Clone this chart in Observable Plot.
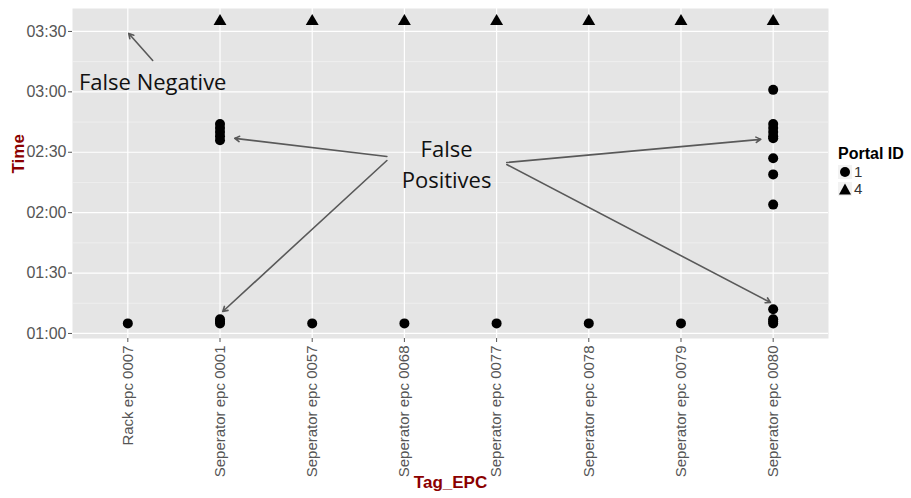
<!DOCTYPE html>
<html>
<head>
<meta charset="utf-8">
<script src="https://cdn.jsdelivr.net/npm/d3@7"></script>
<script src="https://cdn.jsdelivr.net/npm/@observablehq/plot@0.6"></script>
<style>
  html, body { margin: 0; padding: 0; background: white; }
  #wrap { position: relative; width: 911px; height: 498px; }
  #legend { position: absolute; left: 838px; top: 145px; font-family: "Liberation Sans", Arial, sans-serif; }
  #legend .title { font-weight: bold; font-size: 16px; color: #000; line-height: 18px; }
  #legend .item { display: flex; align-items: center; height: 17px; line-height: 17px; font-size: 15px; color: #333; }
  #legend svg { display: block; margin-right: 2px; }
</style>
</head>
<body>
<div id="wrap"></div>
<script>
// ---- data ----
const tags = ["Rack epc 0007", "Seperator epc 0001", "Seperator epc 0057", "Seperator epc 0068",
              "Seperator epc 0077", "Seperator epc 0078", "Seperator epc 0079", "Seperator epc 0080"];

// Portal 1 reads (circles)
const p1Tags = ["Rack epc 0007",
  "Seperator epc 0001", "Seperator epc 0001", "Seperator epc 0001", "Seperator epc 0001", "Seperator epc 0001",
  "Seperator epc 0001", "Seperator epc 0001", "Seperator epc 0001",
  "Seperator epc 0057", "Seperator epc 0068", "Seperator epc 0077", "Seperator epc 0078", "Seperator epc 0079",
  "Seperator epc 0080", "Seperator epc 0080", "Seperator epc 0080", "Seperator epc 0080", "Seperator epc 0080",
  "Seperator epc 0080", "Seperator epc 0080", "Seperator epc 0080", "Seperator epc 0080", "Seperator epc 0080",
  "Seperator epc 0080", "Seperator epc 0080", "Seperator epc 0080"];
const p1Times = ["01:05",
  "02:36", "02:38", "02:40", "02:42", "02:44",
  "01:05", "01:06", "01:07",
  "01:05", "01:05", "01:05", "01:05", "01:05",
  "03:01", "02:44", "02:42", "02:40", "02:38", "02:37",
  "02:27", "02:19", "02:04",
  "01:12", "01:07", "01:06", "01:05"];

// Portal 4 reads (triangles)
const p4Tags = ["Seperator epc 0001", "Seperator epc 0057", "Seperator epc 0068", "Seperator epc 0077",
                "Seperator epc 0078", "Seperator epc 0079", "Seperator epc 0080"];
const p4Times = ["03:35", "03:35", "03:35", "03:35", "03:35", "03:35", "03:35"];

const yTickLabels = ["01:00", "01:30", "02:00", "02:30", "03:00", "03:30"];
const yMinorLabels = ["01:15", "01:45", "02:15", "02:45", "03:15"];

// annotations (x in category position, y in time)
const noteTexts = ["False Negative", "False\nPositives"];
const noteX = [0.27, 3.457];
const noteY = ["03:06", "02:25"];

const arrowX1 = [0.27, 2.81, 2.81, 4.11, 4.11];
const arrowY1 = ["03:15.6", "02:27.9", "02:25.9", "02:24.9", "02:23.9"];
const arrowX2 = [0.01, 1.16, 1.03, 6.865, 6.97];
const arrowY2 = ["03:29", "02:36.9", "01:10.9", "02:36.4", "01:15.4"];

// ---- helpers ----
const toMin = s => { const [h, m] = s.split(":"); return (+h) * 60 + (+m); };
const fmt = m => { const h = Math.floor(m / 60), mm = Math.round(m % 60); return String(h).padStart(2, "0") + ":" + String(mm).padStart(2, "0"); };

const p1 = p1Tags.map((t, i) => ({x: tags.indexOf(t), y: toMin(p1Times[i])}));
const p4 = p4Tags.map((t, i) => ({x: tags.indexOf(t), y: toMin(p4Times[i])}));
const idx = tags.map((_, i) => i);
const majors = yTickLabels.map(toMin);
const minors = yMinorLabels.map(toMin);
const arrows = arrowX1.map((_, i) => ({x1: arrowX1[i], y1: toMin(arrowY1[i]), x2: arrowX2[i], y2: toMin(arrowY2[i])}));
const notes = noteTexts.map((t, i) => ({t, x: noteX[i], y: toMin(noteY[i])}));

const chart = Plot.plot({
  width: 911,
  height: 498,
  marginLeft: 72,
  marginRight: 83,
  marginTop: 8,
  marginBottom: 160,
  style: {fontFamily: "Liberation Sans, Arial, sans-serif", background: "white", overflow: "visible"},
  x: {type: "linear", domain: [-0.6, 7.6], axis: null},
  y: {type: "linear", domain: [57.5, 221.4], axis: null},
  marks: [
    Plot.frame({fill: "#E5E5E5", stroke: null}),
    Plot.ruleY(minors, {stroke: "#F2F2F2", strokeWidth: 0.7}),
    Plot.ruleY(majors, {stroke: "white", strokeWidth: 1.2}),
    Plot.ruleX(idx, {stroke: "white", strokeWidth: 1.2}),
    Plot.axisY({ticks: majors, tickFormat: fmt, tickSize: 4, tickPadding: 2, fontSize: 16, color: "#555", label: null}),
    Plot.axisX({ticks: idx, tickFormat: i => tags[i], tickRotate: -90, tickSize: 4, tickPadding: 3, fontSize: 15, color: "#555", label: null}),
    Plot.dot(p1, {x: "x", y: "y", symbol: "circle", r: 5, fill: "black", stroke: "none"}),
    Plot.dot(p4, {x: "x", y: "y", symbol: "triangle", r: 4.8, fill: "black", stroke: "none"}),
    Plot.arrow(arrows, {x1: "x1", y1: "y1", x2: "x2", y2: "y2", stroke: "#595959", strokeWidth: 1.6, headLength: 5}),
    Plot.text(notes, {x: "x", y: "y", text: "t", fontFamily: "Open Sans, sans-serif", fontSize: 22, lineHeight: 1.43, fill: "#111", textAnchor: "middle", lineAnchor: "middle"}),
    Plot.text(["Time"], {frameAnchor: "left", dx: -54, rotate: -90, fill: "#8B0000", fontWeight: "bold", fontSize: 17}),
    Plot.text(["Tag_EPC"], {frameAnchor: "bottom", dy: 149, fill: "#8B0000", fontWeight: "bold", fontSize: 17})
  ]
});

const wrap = document.getElementById("wrap");
wrap.appendChild(chart);

// legend
const legend = document.createElement("div");
legend.id = "legend";
legend.innerHTML = `
  <div class="title">Portal ID</div>
  <div class="item"><svg width="14" height="14"><rect width="14" height="14" fill="#F2F2F2"/><circle cx="7" cy="7" r="5" fill="black"/></svg>1</div>
  <div class="item"><svg width="14" height="14"><rect width="14" height="14" fill="#F2F2F2"/><path d="M7,1.5 L13,12.5 L1,12.5 Z" fill="black"/></svg>4</div>`;
wrap.appendChild(legend);
</script>
</body>
</html>
